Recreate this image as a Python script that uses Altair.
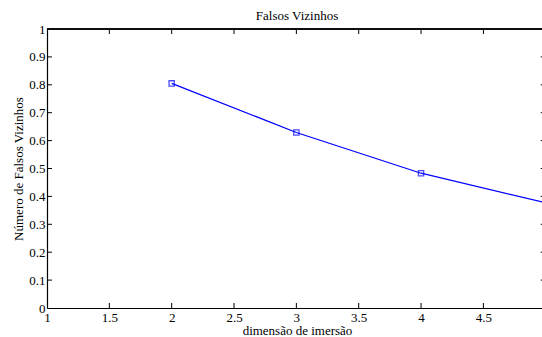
import altair as alt
import pandas as pd

# data
dims = [2, 3, 4, 5]
falsos = [0.805, 0.629, 0.483, 0.377]
x_ticks = [1, 1.5, 2, 2.5, 3, 3.5, 4, 4.5]
y_ticks = [0, 0.1, 0.2, 0.3, 0.4, 0.5, 0.6, 0.7, 0.8, 0.9, 1]

W, H = 495, 279
FONT = "Liberation Serif"
XMAX = 4.97

df = pd.DataFrame({"dim": dims, "fnn": falsos})
xt = pd.DataFrame({"v": x_ticks[1:]})
yt = pd.DataFrame({"v": y_ticks[1:-1]})

xscale = alt.Scale(domain=[1, XMAX], nice=False, zero=False)
yscale = alt.Scale(domain=[0, 1], nice=False, zero=False)

common = dict(grid=False, ticks=False, domain=True, domainColor="black",
              domainWidth=1.2, labelFont=FONT, labelFontSize=13,
              labelColor="black", labelFlush=False, labelOverlap=False,
              titleFont=FONT, titleFontSize=13, titleFontWeight="normal",
              titleColor="black")

xaxis = alt.Axis(values=x_ticks, format="~g", labelPadding=3,
                 title="dimensão de imersão",
                 titleX=250, titleY=26, titleBaseline="alphabetic",
                 titleAlign="center", **common)
yaxis = alt.Axis(values=y_ticks, format="~g", labelPadding=2,
                 title="Número de Falsos Vizinhos",
                 titleX=-29, titleY=H / 2, titleAngle=270,
                 titleBaseline="middle", titleAlign="center", **common)

X = lambda f: alt.X(f, scale=xscale, axis=xaxis)
Y = lambda f: alt.Y(f, scale=yscale, axis=yaxis)
XD = lambda v: alt.XDatum(v, scale=xscale, axis=xaxis)
YD = lambda v: alt.YDatum(v, scale=yscale, axis=yaxis)

line = alt.Chart(df).mark_line(color="#0000ff", strokeWidth=1.3, clip=True).encode(
    x=X("dim:Q"), y=Y("fnn:Q"))
pts = alt.Chart(df).mark_point(shape="square", filled=False, size=28,
                               color="#0000ff", strokeWidth=1.3, clip=True).encode(
    x=X("dim:Q"), y=Y("fnn:Q"))

top = alt.Chart(df).mark_rule(color="black", strokeWidth=1.2).encode(y=YD(1))

tick_len_x = 5 / 124.7
tick_len_y = 5 / H
bt = alt.Chart(xt).mark_rule(color="black", strokeWidth=1).encode(
    x=X("v:Q"), y=YD(0), y2=alt.Y2Datum(tick_len_y))
tt = alt.Chart(xt).mark_rule(color="black", strokeWidth=1).encode(
    x=X("v:Q"), y=YD(1), y2=alt.Y2Datum(1 - tick_len_y))
lt = alt.Chart(yt).mark_rule(color="black", strokeWidth=1).encode(
    y=Y("v:Q"), x=XD(1), x2=alt.X2Datum(1 + tick_len_x))
rt = alt.Chart(yt).mark_rule(color="black", strokeWidth=1, clip=True).encode(
    y=Y("v:Q"), x=XD(5 - tick_len_x), x2=alt.X2Datum(5))

chart = alt.layer(line, pts, top, bt, tt, lt, rt).properties(
    width=W, height=H,
    autosize="none",
    padding={"left": 47, "top": 29, "right": 0, "bottom": 29},
    title=alt.TitleParams("Falsos Vizinhos", font=FONT, fontSize=13,
                          fontWeight="normal", color="black", anchor="middle",
                          frame="group", dx=2.5, dy=20, offset=7, baseline="bottom"),
).configure_view(strokeOpacity=0).configure(
    background="white",
    font=FONT,
).configure_axis(labelFont=FONT, titleFont=FONT)

chart.save("out.html", embed_options={"renderer": "svg", "actions": False})
